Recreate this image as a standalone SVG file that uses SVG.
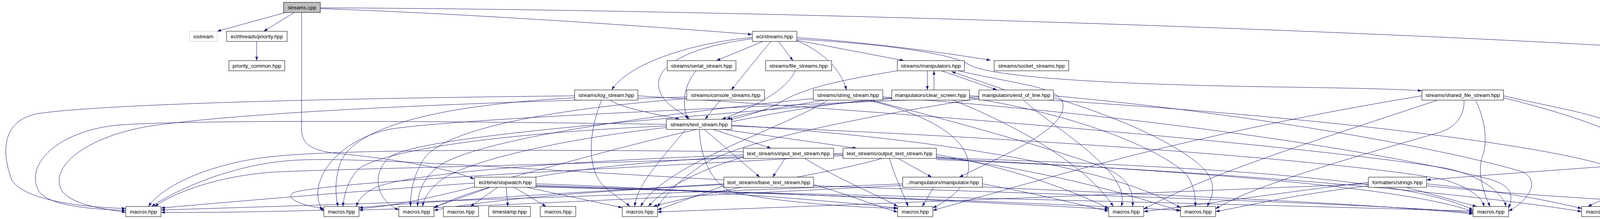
<svg xmlns="http://www.w3.org/2000/svg" width="4863" height="560" viewBox="0 0 4863 560">
<style>
.e{fill:none;stroke:#191970;stroke-width:1;marker-end:url(#arr)}
.n rect{fill:#ffffff;stroke:#000000;stroke-width:1}
.n text{font-family:"Liberation Sans",Arial,Helvetica,sans-serif;font-size:13.33px;text-anchor:middle;fill:#000000}
</style>
<defs>
<marker id="arr" markerWidth="10" markerHeight="8" refX="10" refY="4" orient="auto" markerUnits="userSpaceOnUse"><path d="M0,0.5 L10,4 L0,7.5 z" fill="#191970"/></marker>
</defs>
<rect width="4863" height="560" fill="#ffffff"/>
<g id="edges">
<path class="e" d="M731,32 L556,80"/>
<path class="e" d="M753,32 L675,80"/>
<path class="e" d="M772,32 L772,330 C772,370 800,385 860,392 C1000,405 1150,430 1214,458"/>
<path class="e" d="M820,22 C1200,35 1700,70 1925,88"/>
<path class="e" d="M820,20 C2000,25 3600,80 4420,135 C4500,142 4525,155 4526,170 L4527,280 C4530,320 4540,350 4545,379"/>
<path class="e" d="M657,106 L657,155"/>
<path class="e" d="M1926,96 C1780,108 1610,160 1566,230"/>
<path class="e" d="M1926,99 C1760,120 1670,170 1688,230 C1700,270 1745,285 1765,305"/>
<path class="e" d="M1953,106 L1834,155"/>
<path class="e" d="M1973,106 L1872,230"/>
<path class="e" d="M1993,106 L2030,155"/>
<path class="e" d="M2040,104 C2100,130 2150,170 2167,230"/>
<path class="e" d="M2040,103 L2314,155"/>
<path class="e" d="M2040,96 C2250,110 2450,140 2536,154"/>
<path class="e" d="M2040,100 C2300,115 2440,140 2480,165 C2530,195 2800,215 3244,222 C3450,225 3560,227 3640,232"/>
<path class="e" d="M1782,181 C1750,220 1745,265 1760,305"/>
<path class="e" d="M2036,181 C2010,240 1900,285 1848,305"/>
<path class="e" d="M1844,256 L1805,305"/>
<path class="e" d="M2110,256 C2000,275 1900,290 1860,305"/>
<path class="e" d="M2297,181 C2150,205 2060,225 2000,260 C1960,285 1900,298 1865,307"/>
<path class="e" d="M1561,256 C1600,280 1700,295 1740,305"/>
<path class="e" d="M2374,181 L2374,230"/>
<path class="e" d="M2391,230 L2391,181"/>
<path class="e" d="M2410,181 L2552,230"/>
<path class="e" d="M2573,230 L2436,183"/>
<path class="e" d="M2454,181 C2600,215 2700,220 2720,260 C2740,330 2560,400 2456,453"/>
<path class="e" d="M1826,331 L1974,379"/>
<path class="e" d="M1852,331 L2193,379"/>
<path class="e" d="M1803,331 L1945,453"/>
<path class="e" d="M2010,405 L1978,453"/>
<path class="e" d="M2299,405 L2385,453"/>
<path class="e" d="M4564,405 L4606,453"/>
<path class="e" d="M4590,405 L4754,453"/>
<path class="e" d="M4545,405 C4525,450 4525,490 4547,528"/>
<path class="e" d="M4606,479 L4571,528"/>
<path class="e" d="M4750,479 L4599,528"/>
<path class="e" d="M4487,398 C4200,420 3900,440 3652,460"/>
<path class="e" d="M3652,475 C3900,500 4200,515 4478,533"/>
<path class="e" d="M1255,479 L1111,530"/>
<path class="e" d="M1274,479 L1204,528"/>
<path class="e" d="M1296,479 L1300,528"/>
<path class="e" d="M1316,479 L1398,528"/>
<path class="e" d="M1348,479 L1593,531"/>
<path class="e" d="M1372,470 C1700,480 2100,510 2298,532"/>
<path class="e" d="M1372,474 C1900,490 2500,515 2838,535"/>
<path class="e" d="M1372,476 C2000,495 2700,520 3022,538"/>
<path class="e" d="M1372,478 C2200,500 3300,525 3771,540"/>
<path class="e" d="M1471,245 C1000,250 300,262 100,290 C10,305 0,380 30,460 C60,510 200,530 322,533"/>
<path class="e" d="M1706,318 C1200,310 500,305 300,320 C150,335 60,420 100,490 C130,530 250,535 322,538"/>
<path class="e" d="M1758,248 C1300,260 700,280 400,320 C220,345 120,430 160,490 C190,525 260,533 322,543"/>
<path class="e" d="M1903,388 C1200,380 850,385 700,400 C550,415 420,470 380,528"/>
<path class="e" d="M1853,460 C1300,430 900,400 750,410 C600,420 460,480 388,528"/>
<path class="e" d="M2158,392 C1600,420 900,430 700,440 C560,450 450,490 396,528"/>
<path class="e" d="M1215,468 C900,490 600,515 412,532"/>
<path class="e" d="M2311,470 C1600,500 800,525 412,537"/>
<path class="e" d="M2283,250 C1700,300 1200,520 900,535 C700,542 500,544 412,543"/>
<path class="e" d="M1471,250 C1100,270 900,330 870,420 C855,470 860,500 865,528"/>
<path class="e" d="M1706,322 C1300,340 1000,380 920,430 C890,460 880,500 878,528"/>
<path class="e" d="M1903,396 C1500,410 1050,440 960,480 C930,495 918,510 912,528"/>
<path class="e" d="M1853,470 C1500,490 1100,515 919,531"/>
<path class="e" d="M2311,474 C1800,500 1200,530 919,537"/>
<path class="e" d="M2158,398 C1600,430 900,460 760,490 C720,500 760,525 829,533"/>
<path class="e" d="M2506,248 C2000,270 1200,300 1000,330 C850,360 780,480 829,541"/>
<path class="e" d="M1758,252 C1400,280 1150,330 1090,400 C1060,440 1050,490 1051,528"/>
<path class="e" d="M2082,252 C1700,290 1250,350 1130,420 C1085,450 1070,490 1069,528"/>
<path class="e" d="M1706,326 C1400,360 1180,420 1130,460 C1100,485 1085,505 1082,528"/>
<path class="e" d="M1903,400 C1500,420 1250,460 1111,532"/>
<path class="e" d="M1853,472 C1500,490 1250,510 1111,538"/>
<path class="e" d="M2283,252 C1800,300 1100,340 1000,400 C950,440 960,510 1021,537"/>
<path class="e" d="M1540,256 C1510,330 1500,420 1540,470 C1570,500 1600,515 1612,528"/>
<path class="e" d="M1755,331 C1700,400 1630,470 1625,528"/>
<path class="e" d="M1903,402 C1800,430 1700,480 1660,528"/>
<path class="e" d="M2258,405 C2100,450 1850,480 1672,528"/>
<path class="e" d="M1853,475 L1683,537"/>
<path class="e" d="M2506,252 C2200,300 1900,360 1800,420 C1740,460 1700,500 1683,530"/>
<path class="e" d="M3503,470 C2800,500 2000,530 1683,542"/>
<path class="e" d="M2120,256 C2000,330 1700,420 1640,528"/>
<path class="e" d="M1790,331 C1795,420 1830,470 1870,490 C2000,520 2200,530 2298,533"/>
<path class="e" d="M2277,405 C2290,450 2310,490 2325,528"/>
<path class="e" d="M2390,479 L2361,528"/>
<path class="e" d="M2083,472 C2180,500 2250,530 2298,542"/>
<path class="e" d="M2220,256 C2500,320 2550,450 2388,532"/>
<path class="e" d="M3640,245 C3000,350 2600,480 2388,538"/>
<path class="e" d="M2060,405 C2150,460 2250,500 2298,528"/>
<path class="e" d="M2440,256 C2600,320 2780,420 2850,528"/>
<path class="e" d="M2620,256 C2700,330 2900,440 2870,528"/>
<path class="e" d="M2230,256 C2400,300 2700,380 2830,430 C2900,460 2900,500 2900,528"/>
<path class="e" d="M2397,395 C2600,430 2750,490 2838,533"/>
<path class="e" d="M2515,470 C2650,495 2750,520 2838,540"/>
<path class="e" d="M3680,256 C3400,350 3100,440 2928,535"/>
<path class="e" d="M3503,466 C3300,490 3100,520 2928,541"/>
<path class="e" d="M2482,250 C2800,300 3000,400 3040,450 C3060,480 3060,510 3060,528"/>
<path class="e" d="M2697,250 C2900,310 3080,400 3100,460 C3110,490 3100,510 3090,528"/>
<path class="e" d="M3748,256 C3750,300 3720,330 3680,340 C3400,420 3200,480 3112,534"/>
<path class="e" d="M1873,320 C2500,360 2900,450 3022,532"/>
<path class="e" d="M2397,400 C2700,440 2900,500 3022,540"/>
<path class="e" d="M3503,475 C3300,500 3200,525 3112,541"/>
<path class="e" d="M3777,256 C3800,300 3810,360 3795,400 C3780,440 3800,500 3815,528"/>
<path class="e" d="M3600,479 L3780,528"/>
<path class="e" d="M1873,322 C2800,360 3500,420 3700,460 C3760,480 3790,500 3800,528"/>
<path class="e" d="M2134,395 C3000,420 3600,450 3771,537"/>
<path class="e" d="M2397,405 C3100,440 3600,480 3771,541"/>
<path class="e" d="M2083,475 C2800,500 3500,520 3771,544"/>
<path class="e" d="M2515,478 C3000,500 3500,520 3771,547"/>
<path class="e" d="M1633,245 C2500,300 3400,380 3700,430 C3800,450 3850,500 3855,528"/>
<path class="e" d="M2260,248 C3000,300 3600,400 3820,460 C3880,480 3870,510 3862,532"/>
<path class="e" d="M2697,245 C3200,290 3700,380 3900,440 C3950,470 3900,520 3862,540"/>
<path class="e" d="M3849,245 C4000,280 4150,300 4180,350 C4210,420 4180,500 4140,535"/>
<path class="e" d="M3849,250 C4050,300 4220,360 4230,420 C4240,480 4200,520 4140,540"/>
<path class="e" d="M3652,470 C3850,490 3950,510 4049,533"/>
<path class="e" d="M4487,392 C4300,430 4120,500 4065,528"/>
<path class="e" d="M2397,408 C3200,440 3800,500 4049,541"/>
<path class="e" d="M2482,245 C3200,280 3900,360 4100,420 C4160,440 4160,500 4145,545"/>
</g>
<g id="node_streams_cpp" class="n"><rect x="726" y="6" width="94" height="26" style="fill:#bfbfbf"/><text x="773" y="23.5">streams.cpp</text></g>
<g id="node_iostream" class="n"><rect x="485" y="80" width="71" height="26" style="stroke:#bfbfbf"/><text x="520.5" y="97.5">iostream</text></g>
<g id="node_priority" class="n"><rect x="580" y="80" width="155" height="26"/><text x="657.5" y="97.5">ecl/threads/priority.hpp</text></g>
<g id="node_priority_common" class="n"><rect x="586" y="155" width="143" height="26"/><text x="657.5" y="172.5">priority_common.hpp</text></g>
<g id="node_ecl_streams" class="n"><rect x="1926" y="80" width="114" height="26"/><text x="1983" y="97.5">ecl/streams.hpp</text></g>
<g id="node_serial_stream" class="n"><rect x="1708" y="155" width="176" height="26"/><text x="1796" y="172.5">streams/serial_stream.hpp</text></g>
<g id="node_file_streams" class="n"><rect x="1960" y="155" width="169" height="26"/><text x="2044.5" y="172.5">streams/file_streams.hpp</text></g>
<g id="node_manipulators" class="n"><rect x="2297" y="155" width="172" height="26"/><text x="2383" y="172.5">streams/manipulators.hpp</text></g>
<g id="node_socket_streams" class="n"><rect x="2545" y="155" width="191" height="26"/><text x="2640.5" y="172.5">streams/socket_streams.hpp</text></g>
<g id="node_log_stream" class="n"><rect x="1471" y="230" width="162" height="26"/><text x="1552" y="247.5">streams/log_stream.hpp</text></g>
<g id="node_console_streams" class="n"><rect x="1758" y="230" width="199" height="26"/><text x="1857.5" y="247.5">streams/console_streams.hpp</text></g>
<g id="node_string_stream" class="n"><rect x="2082" y="230" width="178" height="26"/><text x="2171" y="247.5">streams/string_stream.hpp</text></g>
<g id="node_clear_screen" class="n"><rect x="2283" y="230" width="199" height="26"/><text x="2382.5" y="247.5">manipulators/clear_screen.hpp</text></g>
<g id="node_end_of_line" class="n"><rect x="2506" y="230" width="191" height="26"/><text x="2601.5" y="247.5">manipulators/end_of_line.hpp</text></g>
<g id="node_shared_file_stream" class="n"><rect x="3640" y="230" width="209" height="26"/><text x="3744.5" y="247.5">streams/shared_file_stream.hpp</text></g>
<g id="node_text_stream" class="n"><rect x="1706" y="305" width="167" height="26"/><text x="1789.5" y="322.5">streams/text_stream.hpp</text></g>
<g id="node_input_text_stream" class="n"><rect x="1903" y="379" width="231" height="26"/><text x="2018.5" y="396.5">text_streams/input_text_stream.hpp</text></g>
<g id="node_output_text_stream" class="n"><rect x="2158" y="379" width="239" height="26"/><text x="2277.5" y="396.5">text_streams/output_text_stream.hpp</text></g>
<g id="node_ecl_formatters" class="n"><rect x="4487" y="379" width="127" height="26"/><text x="4550.5" y="396.5">ecl/formatters.hpp</text></g>
<g id="node_stopwatch" class="n"><rect x="1215" y="453" width="157" height="26"/><text x="1293.5" y="470.5">ecl/time/stopwatch.hpp</text></g>
<g id="node_base_text_stream" class="n"><rect x="1853" y="453" width="230" height="26"/><text x="1968" y="470.5">text_streams/base_text_stream.hpp</text></g>
<g id="node_manipulator" class="n"><rect x="2311" y="453" width="204" height="26"/><text x="2413" y="470.5">../manipulators/manipulator.hpp</text></g>
<g id="node_fmt_strings" class="n"><rect x="3503" y="453" width="149" height="26"/><text x="3577.5" y="470.5">formatters/strings.hpp</text></g>
<g id="node_fmt_number" class="n"><rect x="4538" y="453" width="153" height="26"/><text x="4614.5" y="470.5">formatters/number.hpp</text></g>
<g id="node_fmt_floats" class="n"><rect x="4716" y="453" width="142" height="26"/><text x="4787" y="470.5">formatters/floats.hpp</text></g>
<g id="node_macros_1" class="n"><rect x="322" y="528" width="90" height="26"/><text x="367" y="545.5">macros.hpp</text></g>
<g id="node_macros_2" class="n"><rect x="829" y="528" width="90" height="26"/><text x="874" y="545.5">macros.hpp</text></g>
<g id="node_macros_3" class="n"><rect x="1021" y="528" width="90" height="26"/><text x="1066" y="545.5">macros.hpp</text></g>
<g id="node_macros_4" class="n"><rect x="1135" y="528" width="90" height="26"/><text x="1180" y="545.5">macros.hpp</text></g>
<g id="node_timestamp" class="n"><rect x="1251" y="528" width="107" height="26"/><text x="1304.5" y="545.5">timestamp.hpp</text></g>
<g id="node_macros_5" class="n"><rect x="1383" y="528" width="91" height="26"/><text x="1428.5" y="545.5">macros.hpp</text></g>
<g id="node_macros_6" class="n"><rect x="1593" y="528" width="90" height="26"/><text x="1638" y="545.5">macros.hpp</text></g>
<g id="node_macros_7" class="n"><rect x="2298" y="528" width="90" height="26"/><text x="2343" y="545.5">macros.hpp</text></g>
<g id="node_macros_8" class="n"><rect x="2838" y="528" width="90" height="26"/><text x="2883" y="545.5">macros.hpp</text></g>
<g id="node_macros_9" class="n"><rect x="3022" y="528" width="90" height="26"/><text x="3067" y="545.5">macros.hpp</text></g>
<g id="node_macros_10" class="n"><rect x="3771" y="528" width="91" height="26"/><text x="3816.5" y="545.5">macros.hpp</text></g>
<g id="node_macros_11" class="n"><rect x="4049" y="528" width="91" height="26"/><text x="4094.5" y="545.5">macros.hpp</text></g>
<g id="node_fmt_common" class="n"><rect x="4478" y="528" width="159" height="26"/><text x="4557.5" y="545.5">formatters/common.hpp</text></g>
</svg>
